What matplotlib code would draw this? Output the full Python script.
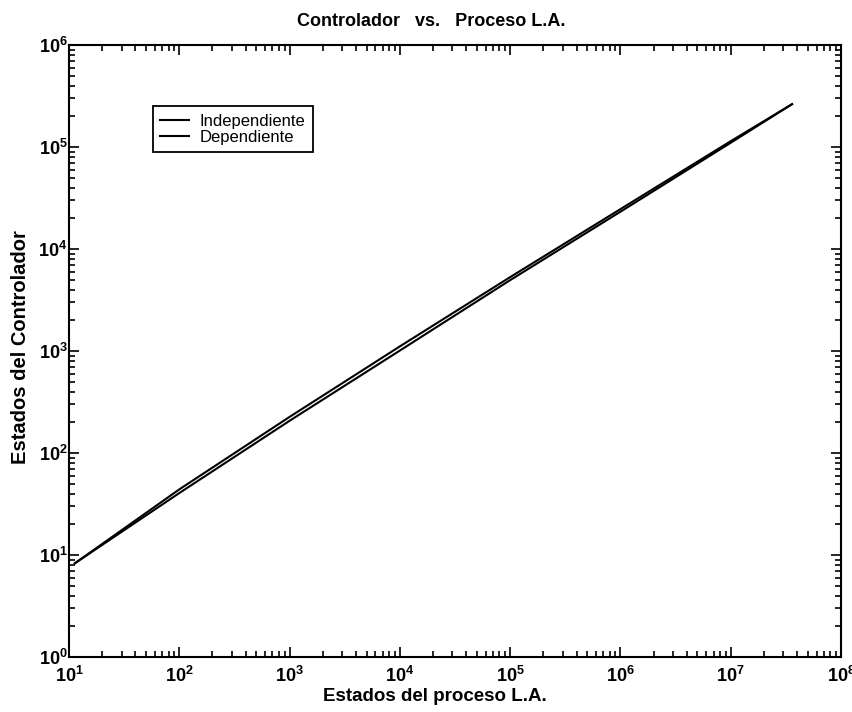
import numpy as np
import matplotlib.pyplot as plt
from matplotlib.ticker import LogLocator, FuncFormatter, NullFormatter

plt.rcParams['font.family'] = ['Liberation Sans', 'DejaVu Sans']
plt.rcParams['mathtext.fontset'] = 'custom'
plt.rcParams['mathtext.rm'] = 'Liberation Sans'
plt.rcParams['mathtext.bf'] = 'Liberation Sans:bold'

# datos
estados_proceso = [11.3, 100, 1e3, 1e4, 1e5, 1e6, 1e7, 3.6e7]
independiente = [8.3, 44, 226, 1110, 5300, 24600, 114000, 263000]
dependiente = [8.3, 40.5, 207, 1010, 4950, 23200, 110000, 263000]

fig = plt.figure(figsize=(8.53, 7.12), dpi=100)
ax = fig.add_axes([0.0809, 0.0772, 0.905, 0.8596])

ax.plot(estados_proceso, independiente, color='black', lw=1.5, label='Independiente')
ax.plot(estados_proceso, dependiente, color='black', lw=1.5, label='Dependiente')

ax.set_xscale('log')
ax.set_yscale('log')
ax.set_xlim(1e1, 1e8)
ax.set_ylim(1e0, 1e6)

fmt = FuncFormatter(lambda v, p: r'$\mathbf{10^{%d}}$' % round(np.log10(v)))
for axis in (ax.xaxis, ax.yaxis):
    axis.set_major_locator(LogLocator(base=10, numticks=20))
    axis.set_minor_locator(LogLocator(base=10, subs=np.arange(2, 10), numticks=20))
    axis.set_major_formatter(fmt)
    axis.set_minor_formatter(NullFormatter())

ax.tick_params(which='both', direction='in', top=True, right=True, width=1.2)
ax.tick_params(which='major', length=7, labelsize=13)
ax.tick_params(which='minor', length=4)
ax.tick_params(axis='x', which='major', pad=6.5)
ax.tick_params(axis='y', which='major', pad=1)
for s in ax.spines.values():
    s.set_linewidth(1.5)

# titulo y etiquetas en posiciones fijas como en la figura original
fig.text(0.506, 0.9705, 'Controlador   vs.   Proceso L.A.', fontsize=13,
         fontweight='bold', ha='center', va='center')
fig.text(0.51, 0.022, 'Estados del proceso L.A.', fontsize=13.5,
         fontweight='bold', ha='center', va='center')
fig.text(0.0246, 0.5126, 'Estados del Controlador', fontsize=14.5,
         fontweight='bold', ha='center', va='center', rotation=90)

leg = ax.legend(loc='upper left', bbox_to_anchor=(0.1088, 0.90), fontsize=12,
                fancybox=False, edgecolor='black', framealpha=1, borderaxespad=0,
                handlelength=1.7, handletextpad=0.65, borderpad=0.45,
                labelspacing=0.05)
leg.get_frame().set_linewidth(1.3)

fig.savefig('out.png', dpi=100)
